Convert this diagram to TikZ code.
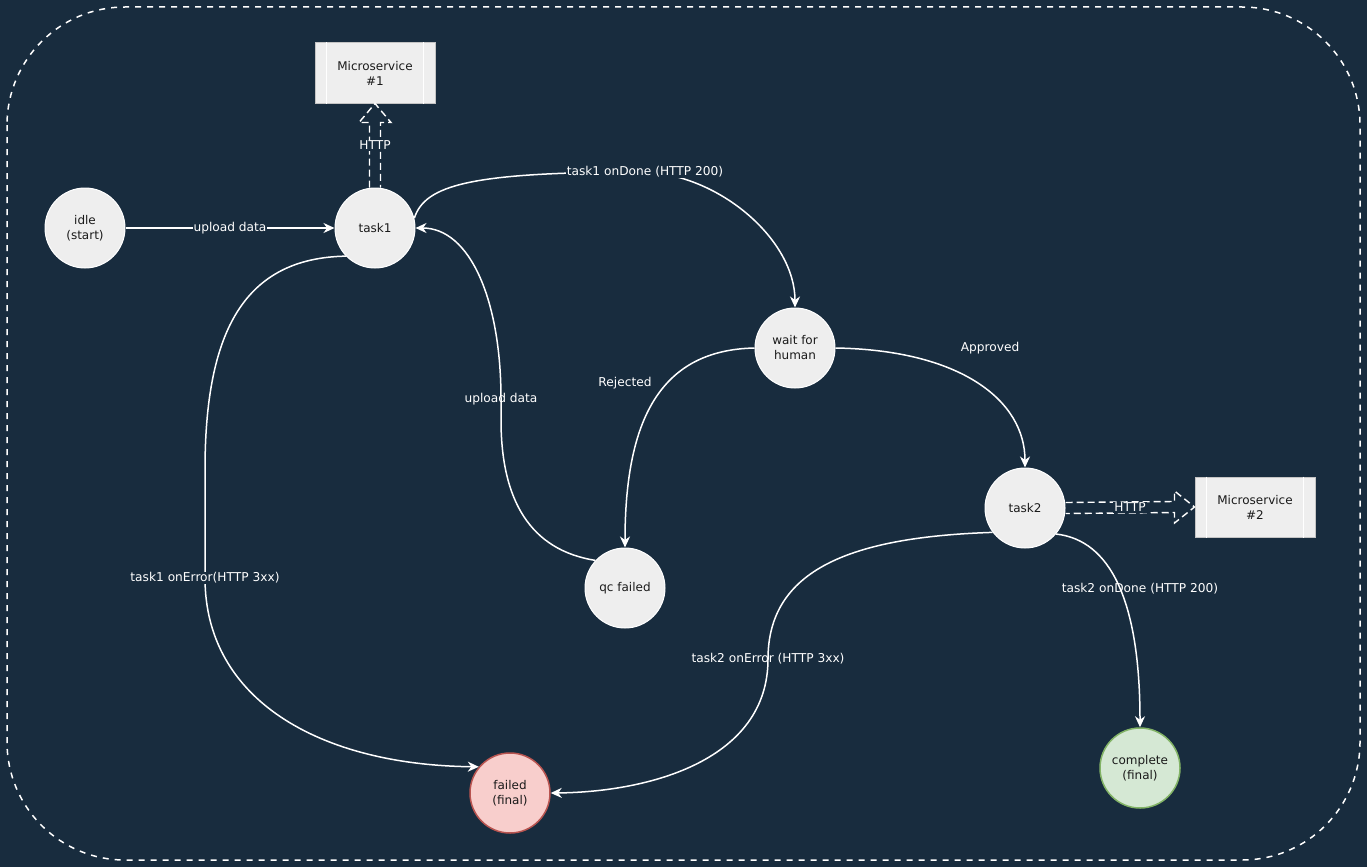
\documentclass[tikz,border=0pt]{standalone}
\usepackage{fontspec}
\setmainfont{DejaVu Sans}
\usetikzlibrary{arrows.meta,calc}

\definecolor{bgdark}{HTML}{182C3E}
\definecolor{statefill}{HTML}{EEEEEE}
\definecolor{statetext}{HTML}{1A1A1A}
\definecolor{failfill}{HTML}{F8CECC}
\definecolor{failline}{HTML}{B85450}
\definecolor{donefill}{HTML}{D5E8D4}
\definecolor{doneline}{HTML}{82B366}
\definecolor{msline}{HTML}{C4C4C4}

\begin{document}
\begin{tikzpicture}[
    x=1pt, y=-1pt,
    state/.style={circle, draw=white, line width=1pt, fill=statefill, minimum size=80pt,
        inner sep=0pt, align=center, text=statetext, font=\fontsize{12}{15}\selectfont},
    failstate/.style={state, draw=failline, line width=1.5pt, fill=failfill},
    donestate/.style={state, draw=doneline, line width=1.5pt, fill=donefill},
    micro/.style={rectangle, draw=msline, line width=1pt, fill=statefill, minimum width=120pt,
        minimum height=60pt, align=center, text=statetext, font=\fontsize{12}{15}\selectfont},
    edge/.style={draw=white, line width=1.5pt, -{Stealth[length=11pt,width=10pt,inset=3.5pt]}},
    flex/.style={draw=white, line width=1.4pt, dash pattern=on 7pt off 4pt},
    lbl/.style={text=white, inner sep=1pt, font=\fontsize{12.2}{15}\selectfont},
    lblbg/.style={lbl, fill=bgdark}
]
    % Background and frame
    \fill[bgdark] (0,0) rectangle (1367,867);
    \draw[white, line width=1.5pt, dash pattern=on 6pt off 6pt, rounded corners=118pt]
        (7,7) rectangle (1360,860);

    % States
    \node[state] (idle) at (85,228) {idle\\(start)};
    \node[state] (task1) at (375,228) {task1};
    \node[state] (wait) at (795,348) {wait for\\human};
    \node[state] (qc) at (625,588) {qc failed};
    \node[state] (task2) at (1025,508) {task2};
    \node[failstate] (failed) at (510,793) {failed\\(final)};
    \node[donestate] (complete) at (1140,768) {complete\\(final)};

    % Microservices
    \node[micro] (ms1) at (375,73) {Microservice\\\#1};
    \node[micro] (ms2) at (1255,507) {Microservice\\\#2};
    \foreach \m in {ms1,ms2} {
        \draw[white, line width=1pt] ([xshift=12pt]\m.north west) -- ([xshift=12pt]\m.south west);
        \draw[white, line width=1pt] ([xshift=-12pt]\m.north east) -- ([xshift=-12pt]\m.south east);
    }

    % HTTP calls
    \draw[flex] ($(task1.north)+(-5.5,0)$) -- ($(ms1.south)+(-5.5,19)$) -- ($(ms1.south)+(-16,19)$)
        -- (ms1.south) -- ($(ms1.south)+(16,19)$) -- ($(ms1.south)+(5.5,19)$) -- ($(task1.north)+(5.5,0)$);
    \path (task1.north) -- node[lblbg] {HTTP} (ms1.south);
    \draw[flex] ($(task2.east)+(0,-5.5)$) -- ($(ms2.west)+(-20,-5.5)$) -- ($(ms2.west)+(-20,-16)$)
        -- (ms2.west) -- ($(ms2.west)+(-20,16)$) -- ($(ms2.west)+(-20,5.5)$) -- ($(task2.east)+(0,5.5)$);
    \path (task2.east) -- node[lblbg] {HTTP} (ms2.west);

    % Transitions
    \draw[edge] (idle) -- node[lblbg] {upload data} (task1);
    \draw[edge] (task1.14) .. controls (425,185) and (470,172) .. (645,172)
        node[lblbg] {task1 onDone (HTTP 200)} .. controls (720,175) and (795,240) .. (wait.north);
    \draw[edge] (task1.224) .. controls (245,258) and (205,330) .. (205,470) -- (205,578)
        node[lblbg] {task1 onError(HTTP 3xx)} .. controls (205,700) and (320,765) .. (failed.140);
    \draw[edge] (qc.137) .. controls (530,550) and (501,500) .. (501,420) -- (501,399)
        node[lbl] {upload data} .. controls (501,300) and (470,228) .. (task1.east);
    \draw[edge] (wait.west) .. controls (660,350) and (625,420) .. (qc.north);
    \draw[edge] (wait.east) .. controls (960,350) and (1025,400) .. (task2.north);
    \draw[edge] (task2.-40) .. controls (1110,540) and (1140,600) .. (complete.north);
    \draw[edge] (task2.217) .. controls (850,537) and (768,570) .. (768,659)
        node[lbl] {task2 onError (HTTP 3xx)} .. controls (768,760) and (650,792) .. (failed.east);

    % Edge labels
    \node[lbl] (rejected) at (625,383) {Rejected};
    \node[lbl] (approved) at (990,348) {Approved};
    \node[lbl] (done2) at (1140,589) {task2 onDone (HTTP 200)};

\end{tikzpicture}
\end{document}
